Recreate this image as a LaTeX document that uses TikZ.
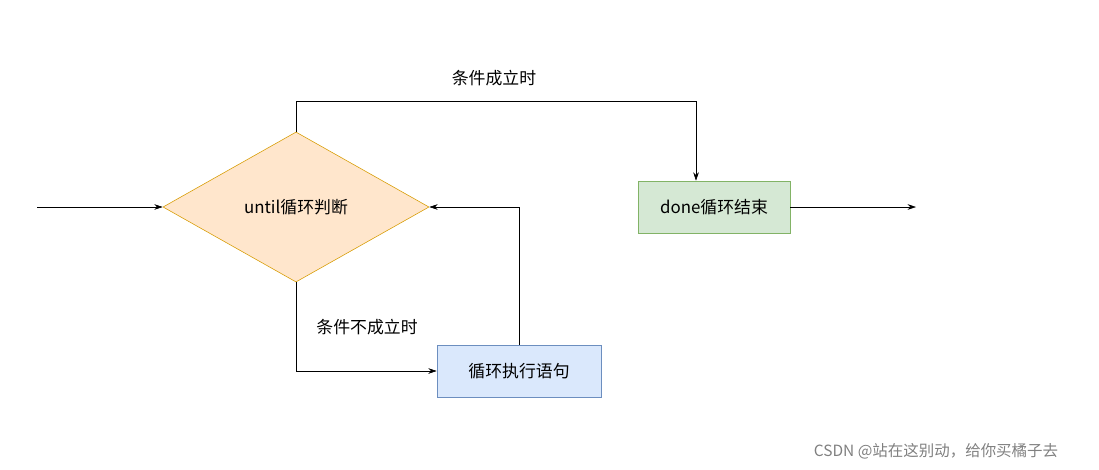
\documentclass[tikz,border=0pt]{standalone}
\usepackage{fontspec}
\setmainfont{Noto Sans CJK SC}
\usetikzlibrary{shapes.geometric,arrows.meta,positioning}
\definecolor{decfill}{HTML}{FFE6CC}
\definecolor{decdraw}{HTML}{D79B00}
\definecolor{endfill}{HTML}{D5E8D4}
\definecolor{enddraw}{HTML}{82B366}
\definecolor{bodyfill}{HTML}{DAE8FC}
\definecolor{bodydraw}{HTML}{6C8EBF}
\tikzset{
  line/.style={draw, -{Stealth[length=6pt,width=4pt]}},
  stepbox/.style={draw, minimum width=3.9cm, minimum height=1.3cm, inner sep=0pt, font=\fontsize{12}{14}\selectfont},
}
\begin{document}
\begin{tikzpicture}[x=0.025cm,y=-0.025cm]
  \useasboundingbox (0,0) rectangle (1099,469);

  % decision
  \node[diamond, draw=decdraw, fill=decfill, minimum width=6.65cm, minimum height=3.75cm,
        inner sep=0pt, aspect=1.77, font=\fontsize{12}{14}\selectfont] (until) at (296,207) {until循环判断};

  % boxes
  \node[stepbox, fill=endfill, draw=enddraw, minimum width=3.8cm] (done) at (714,207) {done循环结束};
  \node[stepbox, fill=bodyfill, draw=bodydraw, minimum width=4.1cm] (body) at (519,371) {循环执行语句};

  \coordinate (in) at (37,207);
  \coordinate (out) at (916,207);
  \coordinate (turn) at (696,101);

  % connectors
  \draw[line] (in) -- (until.west);
  \draw[line] (until.north) |- (turn) -- (turn |- done.north);
  \draw[line] (done.east) -- (out);
  \draw[line] (until.south) |- (body.west);
  \draw[line] (body.north) |- (until.east);

  % labels
  \node[font=\fontsize{12}{14}\selectfont] (yes) at (494,78) {条件成立时};
  \node[font=\fontsize{12}{14}\selectfont] (no) at (367,327) {条件不成立时};
  \node[font=\fontsize{11}{13}\selectfont, text=gray] (mark) at (936,451) {CSDN @站在这别动，给你买橘子去};
\end{tikzpicture}
\end{document}
